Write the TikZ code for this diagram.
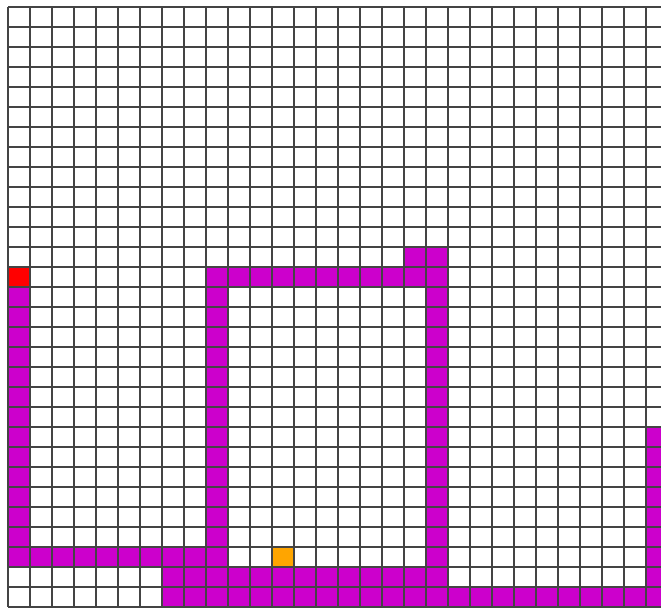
\documentclass[tikz,border=0pt]{standalone}
\definecolor{pathmag}{HTML}{CC00CC}
\definecolor{startred}{HTML}{FF0000}
\definecolor{goalorange}{HTML}{FFA500}
\definecolor{gridgray}{HTML}{444444}
\tikzset{gridline/.style={draw=gridgray,line width=1.3pt},
  pathcell/.style={fill=pathmag},
  startcell/.style={fill=startred},
  goalcell/.style={fill=goalorange}}
\newcommand\gcell[3]{\path[#3] ({8+22*#1},{7+20*#2}) rectangle ++(22,20);}
\begin{document}
\begin{tikzpicture}[x=1pt,y=-1pt]
\useasboundingbox (0,0) rectangle (661,608);
\clip (0,0) rectangle (661,608);
\fill[white] (0,0) rectangle (661,608);
% path cells
\foreach \r in {14,...,27} {\gcell{0}{\r}{pathcell}}
\foreach \c in {1,...,9} {\gcell{\c}{27}{pathcell}}
\foreach \r in {13,...,26} {\gcell{9}{\r}{pathcell}}
\foreach \c in {10,...,19} {\gcell{\c}{13}{pathcell}}
\gcell{18}{12}{pathcell}
\foreach \r in {12,...,28} {\gcell{19}{\r}{pathcell}}
\foreach \c in {7,...,18} {\gcell{\c}{28}{pathcell}}
\foreach \c in {7,...,29} {\gcell{\c}{29}{pathcell}}
\foreach \r in {21,...,28} {\gcell{29}{\r}{pathcell}}
\gcell{0}{13}{startcell}
\gcell{12}{27}{goalcell}
% grid
\foreach \i in {0,...,30} {\draw[gridline] ({8+22*\i},7) -- ({8+22*\i},607);}
\foreach \j in {0,...,30} {\draw[gridline] (8,{7+20*\j}) -- (668,{7+20*\j});}
\end{tikzpicture}
\end{document}
